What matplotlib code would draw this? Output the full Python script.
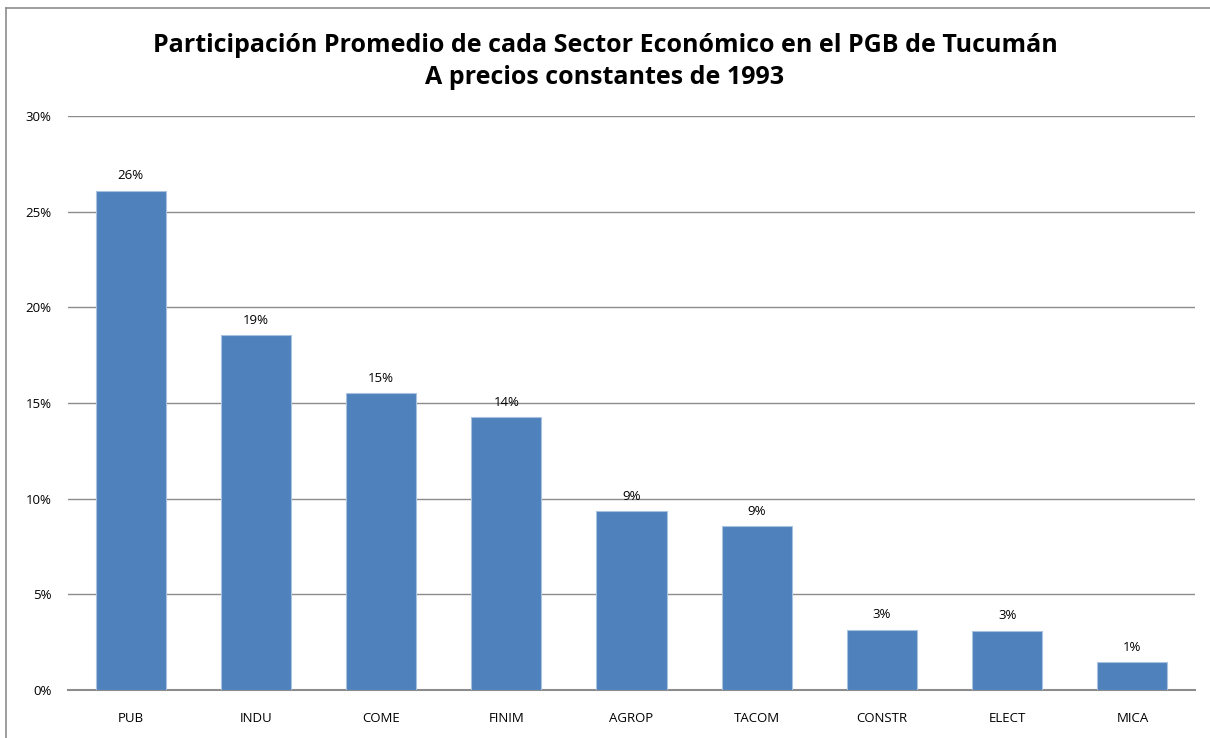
import matplotlib
matplotlib.use("Agg")
import matplotlib.pyplot as plt
from matplotlib.lines import Line2D

sectors = ['PUB', 'INDU', 'COME', 'FINIM', 'AGROP', 'TACOM', 'CONSTR', 'ELECT', 'MICA']
shares = [26.1, 18.55, 15.5, 14.25, 9.35, 8.55, 3.15, 3.1, 1.45]
labels = ['26%', '19%', '15%', '14%', '9%', '9%', '3%', '3%', '1%']
yticks = [0, 5, 10, 15, 20, 25, 30]

plt.rcParams['font.family'] = ['Open Sans', 'DejaVu Sans']

fig = plt.figure(figsize=(12.1, 7.38), dpi=100)
ax = fig.add_axes([68 / 1210, 48 / 738, 1127 / 1210, 574 / 738])

x = range(len(sectors))
bars = ax.bar(x, shares, width=0.56, color='#4F81BD', edgecolor='#A9C2E0', linewidth=0.8, zorder=3)
for b, lab in zip(bars, labels):
    ax.annotate(lab, (b.get_x() + b.get_width() / 2, b.get_height()),
                xytext=(0, 6), textcoords='offset points', ha='center', va='bottom', fontsize=9.5)

ax.set_xlim(-0.5, len(sectors) - 0.5)
ax.set_ylim(0, 30)
ax.set_yticks(yticks)
ax.set_yticklabels([f'{t}%' for t in yticks], fontsize=9.5)
ax.set_xticks(list(x))
ax.set_xticklabels(sectors, fontsize=9.5)
ax.yaxis.grid(True, color='#8C8C8C', linewidth=1, zorder=0)
ax.tick_params(axis='both', length=0, pad=12)
ax.tick_params(axis='x', pad=16)
for s in ['top', 'right', 'left']:
    ax.spines[s].set_visible(False)
ax.spines['bottom'].set_color('#8C8C8C')
ax.spines['bottom'].set_linewidth(1.5)

fig.text(0.5, 0.955, 'Participación Promedio de cada Sector Económico en el PGB de Tucumán\nA precios constantes de 1993',
         ha='center', va='top', fontsize=18, fontweight='bold', linespacing=1.35)

# outer chart border
fig.add_artist(Line2D([6 / 1210, 1], [1 - 8 / 738, 1 - 8 / 738], color='#8C8C8C', linewidth=1.2, transform=fig.transFigure))
fig.add_artist(Line2D([6 / 1210, 6 / 1210], [0, 1 - 8 / 738], color='#8C8C8C', linewidth=1.2, transform=fig.transFigure))

fig.savefig('out.png', dpi=100)
